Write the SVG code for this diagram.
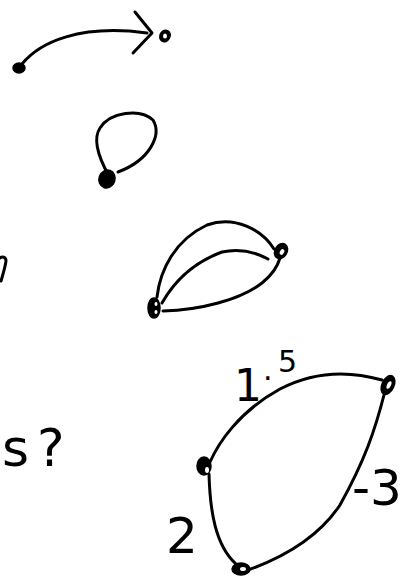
<svg xmlns="http://www.w3.org/2000/svg" width="409" height="582" viewBox="0 0 409 582">
<style>
.e{fill:none;stroke:#000;stroke-width:3;stroke-linecap:round;stroke-linejoin:round}
.nf{fill:#000;stroke:#000;stroke-width:1.5}
.h{fill:#fff}
.t{font-family:"DejaVu Sans","Liberation Sans",sans-serif;fill:#000}
</style>
<rect width="409" height="582" fill="#fff"/>
<g id="connectors">
<path class="e" d="M22,64 C40,42 80,24 147,33"/>
<path class="e" d="M135,12 L152,33 L133,53"/>
<path class="e" d="M109,176 C100,160 92,140 100,128 C110,112 140,108 153,120 C162,135 150,160 118,172"/>
<path class="e" d="M157,297 C160,270 175,240 207,225 C235,215 262,230 274,249"/>
<path class="e" d="M162,303 C175,280 195,262 222,252 C240,248 255,252 268,259"/>
<path class="e" d="M163,311 C200,310 240,300 262,283 C272,275 278,265 280,258"/>
<path class="e" d="M210,462 C218,444 238,412 280,389 C305,376 340,368 382,380"/>
<path class="e" d="M384,395 C375,430 365,460 340,505 C320,535 290,555 248,570"/>
<path class="e" d="M209,474 C210,510 215,545 236,564"/>
<path class="e" d="M0,258 C2,256 6,257 6,261 C5,268 3,274 1,281"/>
</g>
<g id="n1"><ellipse class="nf" cx="19" cy="68" rx="6" ry="5"/></g>
<g id="n2"><ellipse class="nf" cx="165" cy="36" rx="5" ry="6" transform="rotate(30 165 36)"/><ellipse class="h" cx="165" cy="36" rx="2" ry="2.5"/></g>
<g id="n3"><ellipse class="nf" cx="107" cy="179" rx="8" ry="9" transform="rotate(20 107 179)"/></g>
<g id="n4"><ellipse class="nf" cx="154" cy="308" rx="6" ry="10"/><ellipse class="h" cx="156" cy="304" rx="1.5" ry="2"/><ellipse class="h" cx="156" cy="312" rx="1.5" ry="2"/></g>
<g id="n5"><ellipse class="nf" cx="281" cy="251" rx="6" ry="8" transform="rotate(30 281 251)"/><ellipse class="h" cx="282" cy="252" rx="2" ry="3" transform="rotate(30 282 252)"/></g>
<g id="n6"><ellipse class="nf" cx="388" cy="385" rx="6" ry="10" transform="rotate(25 388 385)"/><ellipse class="h" cx="389" cy="385" rx="2" ry="4" transform="rotate(25 389 385)"/></g>
<g id="n7"><ellipse class="nf" cx="204" cy="466" rx="7" ry="9"/><ellipse class="h" cx="207" cy="470" rx="2" ry="3"/></g>
<g id="n8"><ellipse class="nf" cx="241" cy="569" rx="9" ry="6"/><ellipse class="h" cx="243" cy="569" rx="3" ry="2"/></g>
<text class="t" x="2" y="466" font-size="52">s<tspan dx="8">?</tspan></text>
<text class="t"><tspan x="234" y="401" font-size="44">1</tspan><tspan x="263" y="380" font-size="30">.</tspan><tspan x="278" y="372" font-size="30">5</tspan></text>
<text class="t" x="352" y="505" font-size="50">-3</text>
<text class="t" x="166" y="553" font-size="50">2</text>
</svg>
